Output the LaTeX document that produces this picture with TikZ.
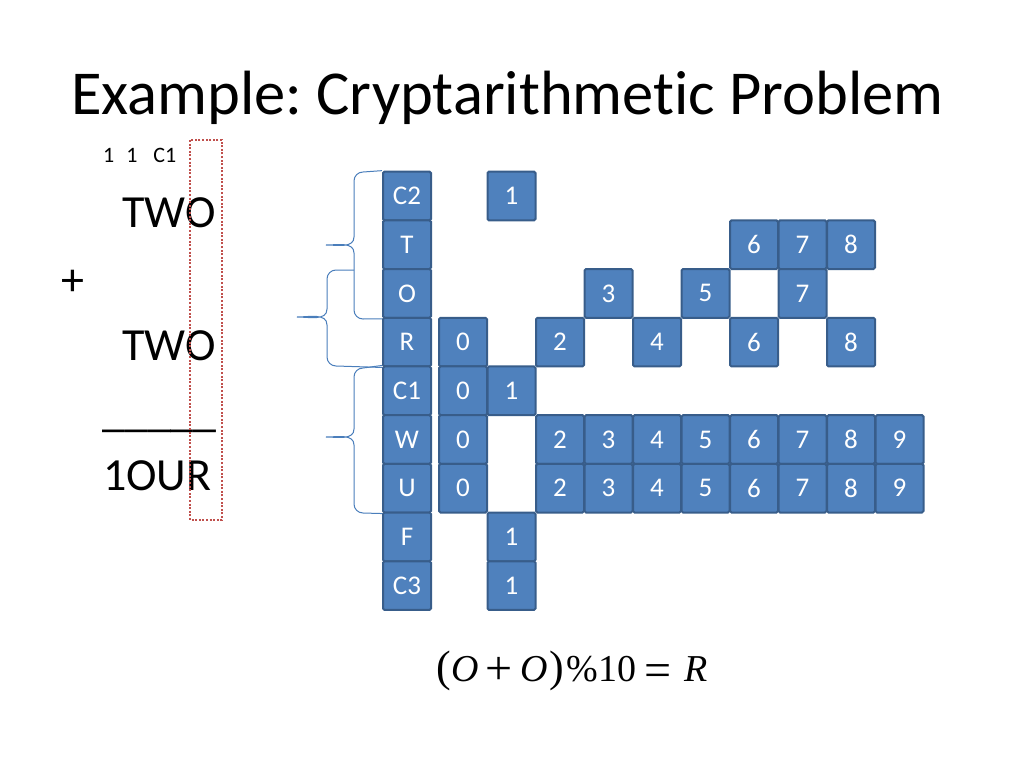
\documentclass[tikz,border=0pt]{standalone}
\usepackage{fontspec}
\setmainfont{Carlito}[Ligatures=NoCommon]
\newfontfamily\timesf{Liberation Serif}
\usetikzlibrary{calc}
\definecolor{cellfill}{HTML}{4F81BD}
\definecolor{cellline}{HTML}{385D8A}
\definecolor{bracecol}{HTML}{4A7EBB}
\definecolor{dotred}{HTML}{C0504D}
\frenchspacing
\newcommand{\fsz}[1]{\fontsize{#1}{#1}\selectfont}
\newcommand{\putat}[2]{\rlap{\hspace{#1pt}#2}}
\begin{document}
\begin{tikzpicture}[x=1pt,y=-1pt,
  cell/.style={rectangle, draw=cellline, fill=cellfill, line width=2pt,
    rounded corners=1.5pt, minimum width=48pt, minimum height=48.7pt, inner sep=0pt,
    text=white, font=\fsz{27}},
  txt/.style={anchor=base west, inner sep=0pt},
  bracepath/.style={draw=bracecol, line width=1pt},
  redbox/.style={draw=dotred, line width=2pt, dash pattern=on 2pt off 1.6pt}]
\useasboundingbox (0,0) rectangle (1024,768);

% title
\node[txt, font=\fsz{62.5}] (title) at (71,114) {Example: Cryptarithmetic Problem};

% left sum
\node[txt, font=\fsz{22}] (carry) at (103,162) {1\hspace{12pt}1\hspace{16pt}C1};
\node[txt, font=\fsz{46}] (two1) at (122,227) {TWO};
\node[txt, font=\fsz{46}] (plus) at (61,295) {+};
\node[txt, font=\fsz{46}] (two2) at (122,360) {TWO};
\node[txt, font=\fsz{46}] (line) at (102,426) {\_\_\_\_\_};
\node[txt, font=\fsz{46}] (four) at (103,490) {1OUR};
\draw[redbox] (190,140) rectangle (222,520);

% label column
\foreach \n [count=\i from 0] in {C2,T,O,R,C1,W,U,F,C3}
  \node[cell] (\n) at (407, 196+48.7*\i) {\n};

% domain cells
\foreach \n/\ds [count=\i from 0] in {C2/{1},T/{6,7,8},O/{3,5,7},R/{0,2,4,6,8},C1/{0,1},W/{0,2,3,4,5,6,7,8,9},U/{0,2,3,4,5,6,7,8,9},F/{1},C3/{1}}
  \foreach \d in \ds
    \node[cell] (\n-\d) at (463+48.5*\d, 196+48.7*\i) {\d};

% braces
\coordinate (tip1) at (326,245);
\coordinate (tip2) at (297,317);
\coordinate (tip3) at (326,437);
\path[bracepath] (C2.north west) -- (363,172) to[out=180,in=90] (354,181) -- (354,237)
  to[out=-90,in=0] (tip1) to[out=0,in=90] (354,253) -- (354,310)
  to[out=-90,in=180] (363,319) -- (O.south west);
\path[bracepath] (354,270) -- (336,270) to[out=180,in=90] (327,279) -- (327,309)
  to[out=-90,in=0] (tip2) to[out=0,in=90] (327,325) -- (327,357)
  to[out=-90,in=180] (336,366) -- (R.south west);
\path[bracepath] (C1.north west) -- (363,368) to[out=180,in=90] (354,377) -- (354,429)
  to[out=-90,in=0] (tip3) to[out=0,in=90] (354,445) -- (354,504)
  to[out=-90,in=180] (363,513) -- (U.south west);

% formula
\node[txt, font=\timesf\fsz{38}] (formula) at (435,681)
  {\putat{1}{\fsz{44}(}\putat{16}{\textit{O}}\putat{50}{\raisebox{-3pt}{\fsz{48}+}}\putat{85}{\textit{O}}\putat{114}{\fsz{44})}\putat{131}{\%}\putat{163}{10}\putat{209}{\raisebox{-5pt}{\fsz{48}=}}\putat{249}{\textit{R}}\hspace{270pt}};
\end{tikzpicture}
\end{document}
